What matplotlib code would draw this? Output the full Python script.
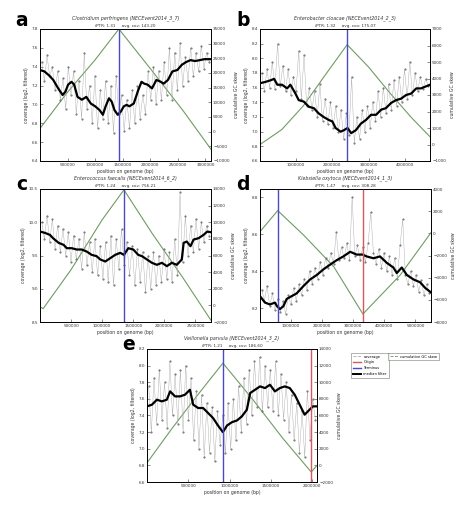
import numpy as np
import matplotlib
matplotlib.use("Agg")
import matplotlib.pyplot as plt
from matplotlib.lines import Line2D

# ---- panel a : Clostridium perfringens ----
a_title = "Clostridium perfringens (NECEvent2014_3_7)"
a_stats = "iPTR: 1.31     avg. cov: 143.20"
a_xmax = 3.1e6
a_ori, a_ter = None, 1.43e6
a_med_x = [0.0, 0.08, 0.16, 0.24, 0.33, 0.41, 0.46, 0.51, 0.57, 0.62, 0.68, 0.76, 0.84, 0.92, 1.0, 1.08, 1.14,
           1.19, 1.25, 1.30, 1.35, 1.41, 1.46, 1.52, 1.57, 1.62, 1.70, 1.78, 1.84, 1.89, 1.95, 2.03, 2.11, 2.19,
           2.24, 2.32, 2.40, 2.49, 2.57, 2.65, 2.73, 2.81, 2.90, 2.98, 3.1]
a_med_y = [7.365, 7.35, 7.31, 7.26, 7.17, 7.10, 7.135, 7.21, 7.24, 7.21, 7.08, 7.05, 7.08, 7.01, 6.98, 6.94, 6.89,
           6.98, 7.065, 7.03, 6.94, 6.89, 6.92, 6.98, 6.995, 6.98, 7.01, 7.15, 7.24, 7.22, 7.21, 7.17, 7.26, 7.24,
           7.22, 7.26, 7.35, 7.365, 7.42, 7.45, 7.47, 7.46, 7.47, 7.48, 7.48]
a_cov = [7.45, 7.25, 7.52, 7.30, 7.40, 7.15, 7.35, 7.05, 7.28, 6.95, 7.40, 7.10, 7.35, 6.90, 7.25, 6.85,
         7.55, 6.95, 7.20, 6.80, 7.30, 6.75, 7.15, 6.85, 7.25, 6.80, 7.20, 6.70, 7.30, 6.90, 7.10, 6.72,
         7.05, 6.75, 7.15, 6.80, 7.20, 6.85, 7.10, 6.90, 7.35, 7.05, 7.40, 7.00, 7.35, 7.05, 7.45, 7.10,
         7.60, 7.05, 7.55, 7.15, 7.65, 7.20, 7.50, 7.25, 7.60, 7.30, 7.55, 7.35, 7.62, 7.38, 7.55, 7.45]
a_gc_x = [0.0, 0.5e6, 1.0e6, 1.43e6, 2.0e6, 2.6e6, 3.1e6]
a_gc_y = [1100, 13500, 24500, 35000, 21500, 7000, -6000]
a_ylim, a_yticks = (6.4, 7.8), [6.4, 6.6, 6.8, 7.0, 7.2, 7.4, 7.6, 7.8]
a_y2lim, a_y2ticks = (-10000, 35000), list(range(-10000, 35001, 5000))
a_xticks = [500000, 1000000, 1500000, 2000000, 2500000, 3000000]

# ---- panel b : Enterobacter cloacae ----
b_title = "Enterobacter cloacae (NECEvent2014_2_3)"
b_stats = "iPTR: 1.32     avg. cov: 175.07"
b_xmax = 4.7e6
b_ori, b_ter = None, 2.41e6
b_med_x = [0.0, 0.16, 0.29, 0.39, 0.48, 0.61, 0.75, 0.84, 0.98, 1.07, 1.21, 1.35, 1.49, 1.62, 1.76, 1.90, 2.0,
           2.09, 2.23, 2.32, 2.42, 2.52, 2.65, 2.79, 2.93, 3.07, 3.21, 3.35, 3.48, 3.62, 3.76, 3.90, 4.04, 4.18,
           4.32, 4.45, 4.7]
b_med_y = [7.66, 7.68, 7.70, 7.72, 7.64, 7.64, 7.59, 7.64, 7.52, 7.43, 7.41, 7.34, 7.32, 7.25, 7.20, 7.16, 7.14,
           7.05, 7.00, 7.02, 7.05, 6.98, 7.02, 7.11, 7.16, 7.23, 7.23, 7.30, 7.32, 7.39, 7.43, 7.45, 7.50, 7.52,
           7.59, 7.59, 7.64]
b_cov = [7.80, 7.55, 7.85, 7.60, 7.95, 7.58, 8.20, 7.62, 7.90, 7.55, 7.85, 7.50, 7.75, 7.55, 8.10, 7.45,
         8.05, 7.35, 7.60, 7.30, 7.55, 7.20, 7.65, 7.15, 7.45, 7.10, 7.40, 7.05, 7.35, 7.00, 7.30, 6.90,
         7.25, 6.95, 7.75, 6.85, 7.20, 6.90, 7.30, 7.00, 7.35, 7.05, 7.40, 7.15, 7.55, 7.20, 7.60, 7.25,
         7.65, 7.30, 7.70, 7.35, 7.75, 7.40, 7.85, 7.45, 7.95, 7.50, 7.80, 7.55, 7.75, 7.58, 7.72, 7.62]
b_gc_x = [0.0, 0.6e6, 1.2e6, 1.8e6, 2.41e6, 3.0e6, 3.6e6, 4.2e6, 4.7e6]
b_gc_y = [0, 900, 2350, 4200, 6050, 4700, 3100, 1600, 470]
b_ylim, b_yticks = (6.6, 8.4), [6.6, 6.8, 7.0, 7.2, 7.4, 7.6, 7.8, 8.0, 8.2, 8.4]
b_y2lim, b_y2ticks = (-1000, 7000), list(range(-1000, 7001, 1000))
b_xticks = [1000000, 2000000, 3000000, 4000000]

# ---- panel c : Enterococcus faecalis ----
c_title = "Enterococcus faecalis (NECEvent2014_6_2)"
c_stats = "iPTR: 1.24     avg. cov: 756.21"
c_xmax = 2.75e6
c_ori, c_ter = None, 1.35e6
c_med_x = [0.0, 0.08, 0.16, 0.21, 0.30, 0.38, 0.43, 0.51, 0.59, 0.67, 0.75, 0.83, 0.91, 0.97, 1.05, 1.13, 1.21,
           1.29, 1.35, 1.42, 1.50, 1.58, 1.64, 1.72, 1.80, 1.88, 1.96, 2.04, 2.12, 2.20, 2.28, 2.31, 2.36, 2.42,
           2.47, 2.55, 2.63, 2.69, 2.75]
c_med_y = [9.86, 9.84, 9.81, 9.76, 9.69, 9.66, 9.61, 9.61, 9.59, 9.59, 9.56, 9.51, 9.49, 9.44, 9.41, 9.46, 9.51,
           9.54, 9.51, 9.61, 9.59, 9.51, 9.49, 9.44, 9.39, 9.36, 9.39, 9.34, 9.39, 9.36, 9.44, 9.69, 9.71, 9.64,
           9.74, 9.76, 9.81, 9.86, 9.85]
c_cov = [10.00, 9.75, 10.10, 9.70, 10.05, 9.60, 9.95, 9.55, 9.90, 9.50, 9.85, 9.40, 9.80, 9.45, 9.75, 9.30,
         9.85, 9.35, 9.70, 9.25, 9.75, 9.20, 9.65, 9.15, 9.70, 9.10, 9.80, 9.05, 9.75, 9.30, 9.90, 9.35,
         9.70, 9.20, 9.65, 9.05, 9.60, 9.10, 9.55, 8.95, 9.50, 9.00, 9.55, 9.05, 9.50, 9.10, 9.60, 9.15,
         9.55, 9.10, 9.75, 9.20, 10.45, 9.40, 10.10, 9.50, 9.95, 9.55, 10.05, 9.60, 10.00, 9.70, 9.95, 9.80]
c_gc_x = [0.0, 0.05e6, 0.5e6, 1.0e6, 1.35e6, 1.8e6, 2.3e6, 2.75e6]
c_gc_y = [-150, -400, 4300, 10300, 13900, 8700, 3300, -1800]
c_ylim, c_yticks = (8.5, 10.5), [8.5, 9.0, 9.5, 10.0, 10.5]
c_y2lim, c_y2ticks = (-2000, 14000), list(range(-2000, 14001, 2000))
c_xticks = [500000, 1000000, 1500000, 2000000, 2500000]

# ---- panel d : Klebsiella oxytoca ----
d_title = "Klebsiella oxytoca (NECEvent2014_1_3)"
d_stats = "iPTR: 1.47     avg. cov: 308.28"
d_xmax = 5.5e6
d_ori, d_ter = 3.31e6, 0.57e6
d_med_x = [0.0, 0.16, 0.32, 0.48, 0.55, 0.64, 0.75, 0.86, 1.02, 1.18, 1.40, 1.61, 1.83, 2.04, 2.25, 2.47, 2.68,
           2.90, 3.11, 3.30, 3.43, 3.65, 3.86, 4.08, 4.29, 4.40, 4.56, 4.72, 4.94, 5.15, 5.31, 5.5]
d_med_y = [8.265, 8.23, 8.22, 8.23, 8.21, 8.195, 8.21, 8.25, 8.265, 8.28, 8.32, 8.355, 8.38, 8.41, 8.435, 8.46,
           8.48, 8.505, 8.49, 8.49, 8.48, 8.47, 8.48, 8.445, 8.42, 8.39, 8.42, 8.38, 8.355, 8.34, 8.31, 8.285]
d_cov = [8.30, 8.24, 8.32, 8.21, 8.28, 8.19, 8.25, 8.18, 8.24, 8.17, 8.27, 8.22, 8.31, 8.24, 8.33, 8.27,
         8.36, 8.30, 8.40, 8.33, 8.42, 8.36, 8.45, 8.38, 8.47, 8.42, 8.50, 8.44, 8.61, 8.46, 8.53, 8.47,
         8.55, 8.46, 8.80, 8.48, 8.54, 8.46, 8.53, 8.45, 8.55, 8.72, 8.50, 8.44, 8.52, 8.42, 8.50, 8.40,
         8.48, 8.38, 8.47, 8.36, 8.54, 8.68, 8.38, 8.33, 8.40, 8.32, 8.38, 8.29, 8.35, 8.27, 8.33, 8.28]
d_gc_x = [0.0, 0.57e6, 1.40e6, 2.37e6, 3.31e6, 4.51e6, 5.5e6]
d_gc_y = [150, 2050, -150, -3000, -7280, -3760, 60]
d_ylim, d_yticks = (8.125, 8.845), [8.2, 8.4, 8.6, 8.8]
d_y2lim, d_y2ticks = (-8000, 4000), list(range(-8000, 4001, 2000))
d_xticks = [1000000, 2000000, 3000000, 4000000, 5000000]

# ---- panel e : Veillonella parvula ----
e_title = "Veillonella parvula (NECEvent2014_3_2)"
e_stats = "iPTR: 1.21     avg. cov: 186.60"
e_xmax = 2.06e6
e_ori, e_ter = 1.99e6, 0.92e6
e_med_x = [0.0, 0.06, 0.12, 0.18, 0.24, 0.28, 0.34, 0.40, 0.46, 0.52, 0.56, 0.62, 0.68, 0.74, 0.80, 0.86, 0.92,
           0.97, 1.03, 1.09, 1.15, 1.21, 1.25, 1.31, 1.37, 1.43, 1.49, 1.55, 1.61, 1.67, 1.73, 1.79, 1.85, 1.91,
           1.97, 2.01, 2.06]
e_med_y = [7.51, 7.53, 7.59, 7.57, 7.59, 7.69, 7.63, 7.63, 7.65, 7.71, 7.53, 7.49, 7.49, 7.43, 7.37, 7.28, 7.20,
           7.28, 7.32, 7.34, 7.39, 7.47, 7.67, 7.71, 7.75, 7.73, 7.77, 7.69, 7.73, 7.75, 7.73, 7.65, 7.53, 7.41,
           7.47, 7.51, 7.51]
e_cov = [7.75, 7.20, 7.85, 7.30, 7.95, 7.35, 7.80, 7.25, 8.05, 7.40, 7.90, 7.30, 7.95, 7.20, 8.00, 7.35,
         7.85, 7.10, 7.70, 7.00, 7.65, 6.90, 7.55, 6.95, 7.50, 6.85, 7.45, 7.05, 7.40, 6.95, 7.55, 7.00,
         7.60, 7.10, 7.75, 7.20, 7.85, 7.30, 7.95, 7.40, 8.05, 7.50, 8.10, 7.45, 8.00, 7.50, 7.95, 7.45,
         8.05, 7.40, 7.90, 7.35, 7.80, 7.20, 7.65, 7.10, 7.55, 6.95, 7.45, 6.90, 7.70, 7.10, 7.60, 7.35]
e_gc_x = [0.0, 0.3e6, 0.6e6, 0.92e6, 1.3e6, 1.65e6, 1.99e6, 2.06e6]
e_gc_y = [300, 4400, 8300, 12300, 7700, 3200, -800, 0]
e_ylim, e_yticks = (6.6, 8.2), [6.6, 6.8, 7.0, 7.2, 7.4, 7.6, 7.8, 8.0, 8.2]
e_y2lim, e_y2ticks = (-2000, 14000), list(range(-2000, 14001, 2000))
e_xticks = [500000, 1000000, 1500000, 2000000]

W, H = 474, 514
fig = plt.figure(figsize=(W / 100, H / 100), dpi=100)

GREEN = "#6f9c62"
BLUE = "#4a4ac8"
RED = "#d9575a"
GREY = "#a8a8a8"
FS = 3.0


def panel(rect, letter, letter_pos, title, stats, xmax, ori, ter, mx, my, cov, gx, gy,
          ylim, yticks, y2lim, y2ticks, xticks):
    ax = fig.add_axes(rect)
    ax2 = ax.twinx()
    ax.set_zorder(ax2.get_zorder() + 1)
    ax.patch.set_visible(False)
    cx = np.linspace(0.01 * xmax, 0.99 * xmax, len(cov))
    ax.plot(cx, cov, color=GREY, lw=0.3, marker=".", ms=1.0, mec="#666666", mfc="#666666")
    ax.plot(np.array(mx) * 1e6, my, color="black", lw=1.6)
    ax2.plot(gx, gy, color=GREEN, lw=0.8)
    if ter is not None:
        ax.axvline(ter, color=BLUE, lw=1.0)
    if ori is not None:
        ax.axvline(ori, color=RED, lw=1.0)
    ax.set_xlim(0, xmax)
    ax.set_ylim(*ylim)
    ax.set_yticks(yticks)
    ax.set_yticklabels(["%.1f" % v for v in yticks])
    ax.set_xticks(xticks)
    ax.set_xticklabels([str(v) for v in xticks])
    ax2.set_ylim(*y2lim)
    ax2.set_yticks(y2ticks)
    for a_ in (ax, ax2):
        a_.tick_params(labelsize=FS, length=2, width=0.4, direction="in", pad=1.5, colors="#333333")
        for s in a_.spines.values():
            s.set_linewidth(0.6)
    ax.set_xlabel("position on genome (bp)", fontsize=FS + 0.3, labelpad=1.5, color="#333333")
    ax.set_ylabel("coverage (log2, filtered)", fontsize=FS + 0.3, labelpad=2, color="#333333")
    ax2.set_ylabel("cumulative GC skew", fontsize=FS + 0.3, labelpad=3, color="#333333")
    ax.text(0.5, 1.06, title, transform=ax.transAxes, ha="center", va="bottom",
            fontsize=FS + 0.4, style="italic", color="#333333")
    ax.text(0.5, 1.01, stats, transform=ax.transAxes, ha="center", va="bottom",
            fontsize=FS, color="#333333")
    fig.text(letter_pos[0] / W, 1 - letter_pos[1] / H, letter, fontsize=13.5, fontweight="bold",
             ha="center", va="center")
    return ax


panel([40 / W, 1 - 161 / H, 171 / W, 132 / H], "a", (22, 21), a_title, a_stats, a_xmax, a_ori, a_ter,
      a_med_x, a_med_y, a_cov, a_gc_x, a_gc_y, a_ylim, a_yticks, a_y2lim, a_y2ticks, a_xticks)
panel([260 / W, 1 - 161 / H, 170 / W, 132 / H], "b", (243, 21), b_title, b_stats, b_xmax, b_ori, b_ter,
      b_med_x, b_med_y, b_cov, b_gc_x, b_gc_y, b_ylim, b_yticks, b_y2lim, b_y2ticks, b_xticks)
panel([40 / W, 1 - 322 / H, 171 / W, 133 / H], "c", (22, 185), c_title, c_stats, c_xmax, c_ori, c_ter,
      c_med_x, c_med_y, c_cov, c_gc_x, c_gc_y, c_ylim, c_yticks, c_y2lim, c_y2ticks, c_xticks)
panel([260 / W, 1 - 322 / H, 171 / W, 133 / H], "d", (243, 184), d_title, d_stats, d_xmax, d_ori, d_ter,
      d_med_x, d_med_y, d_cov, d_gc_x, d_gc_y, d_ylim, d_yticks, d_y2lim, d_y2ticks, d_xticks)
panel([147 / W, 1 - 482 / H, 170 / W, 133 / H], "e", (129, 345), e_title, e_stats, e_xmax, e_ori, e_ter,
      e_med_x, e_med_y, e_cov, e_gc_x, e_gc_y, e_ylim, e_yticks, e_y2lim, e_y2ticks, e_xticks)

# legends
h1 = [Line2D([], [], color=GREY, lw=0.6, ls="--"),
      Line2D([], [], color=RED, lw=1.0),
      Line2D([], [], color=BLUE, lw=1.0),
      Line2D([], [], color="black", lw=1.4)]
leg1 = fig.legend(h1, ["coverage", "Origin", "Terminus", "median filter"], loc="upper left",
                  bbox_to_anchor=(349 / W, 1 - 351 / H), fontsize=2.6, frameon=True, fancybox=False,
                  handlelength=2.2, borderpad=0.5, labelspacing=0.5, edgecolor="#555555")
leg1.get_frame().set_linewidth(0.4)
h2 = [Line2D([], [], color=GREEN, lw=0.6, ls="--")]
leg2 = fig.legend(h2, ["cumulative GC skew"], loc="upper left", bbox_to_anchor=(386 / W, 1 - 351 / H),
                  fontsize=2.6, frameon=True, fancybox=False, handlelength=2.2, borderpad=0.5,
                  edgecolor="#555555")
leg2.get_frame().set_linewidth(0.4)

fig.savefig("out.png", dpi=100)
